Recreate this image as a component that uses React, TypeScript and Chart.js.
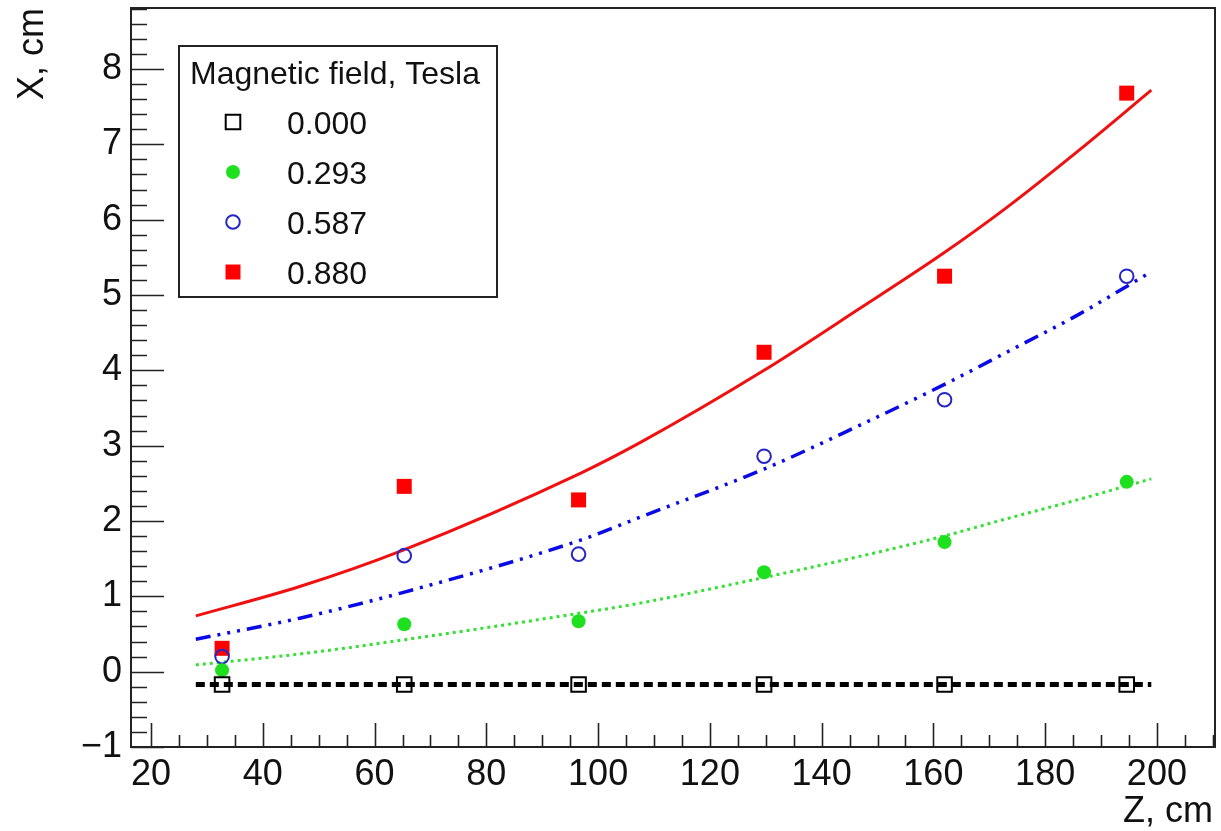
import React, { useEffect, useRef } from 'react';
import { Chart, registerables } from 'chart.js';

Chart.register(...registerables);

// ---- data ----
const zPoints = [32.7, 65.3, 96.5, 129.7, 162.0, 194.6];
const x000 = [-0.17, -0.17, -0.17, -0.17, -0.17, -0.17];
const x293 = [0.02, 0.63, 0.67, 1.32, 1.72, 2.52];
const x587 = [0.2, 1.54, 1.56, 2.86, 3.61, 5.25];
const x880 = [0.31, 2.46, 2.28, 4.24, 5.25, 7.68];

const zFit = [28, 46.6, 65, 97, 107.5, 129.7, 146.8, 161.9, 173.1, 186.2, 199];
const fit000 = [-0.17, -0.17, -0.17, -0.17, -0.17, -0.17, -0.17, -0.17, -0.17, -0.17, -0.17];
const fit293 = [0.09, 0.235, 0.42, 0.78, 0.91, 1.25, 1.53, 1.8, 2.03, 2.29, 2.56];
const fit587 = [0.43, 0.71, 1.05, 1.75, 2.05, 2.69, 3.27, 3.81, 4.24, 4.75, 5.31];
const fit880 = [0.74, 1.13, 1.61, 2.64, 3.04, 4.0, 4.82, 5.56, 6.16, 6.93, 7.72];

const legendTitle = 'Magnetic field, Tesla';
const legendLabels = ['0.000', '0.293', '0.587', '0.880'];
const xTickValues = [20, 40, 60, 80, 100, 120, 140, 160, 180, 200];
const yTickValues = [-1, 0, 1, 2, 3, 4, 5, 6, 7, 8];
const xTitle = 'Z, cm';
const yTitle = 'X, cm';

const X_MIN = 16.4;
const X_MAX = 210.4;
const Y_MIN = -1;
const Y_MAX = 8.81;

const FONT = '"Liberation Sans", Arial, Helvetica, sans-serif';

const toXY = (xs: number[], ys: number[]) => xs.map((x, i) => ({ x, y: ys[i] }));

const markerStyles = [
  { style: 'rect', radius: 10.3, fill: 'rgba(0,0,0,0)', stroke: '#000000', bw: 2 },
  { style: 'circle', radius: 7, fill: '#1fe01f', stroke: '#1fe01f', bw: 0 },
  { style: 'circle', radius: 6.8, fill: 'rgba(0,0,0,0)', stroke: '#2626c4', bw: 2 },
  { style: 'rect', radius: 10.6, fill: '#ff0000', stroke: '#ff0000', bw: 0 },
];

function drawMarker(ctx: CanvasRenderingContext2D, m: any, x: number, y: number) {
  ctx.save();
  ctx.beginPath();
  if (m.style === 'rect') {
    const s = Math.SQRT1_2 * m.radius;
    ctx.rect(x - s, y - s, 2 * s, 2 * s);
  } else {
    ctx.arc(x, y, m.radius, 0, Math.PI * 2);
  }
  ctx.fillStyle = m.fill;
  ctx.fill();
  if (m.bw > 0) {
    ctx.lineWidth = m.bw;
    ctx.strokeStyle = m.stroke;
    ctx.stroke();
  }
  ctx.restore();
}

const zeroPad = (s: any) => {
  s.paddingTop = 0;
  s.paddingBottom = 0;
  s.paddingLeft = 0;
  s.paddingRight = 0;
};

const rootFramePlugin = {
  id: 'rootFrame',
  beforeDatasetsDraw(chart: any) {
    const { ctx, chartArea } = chart;
    const xs = chart.scales.x;
    const ys = chart.scales.y;
    ctx.save();
    ctx.strokeStyle = '#222';
    ctx.lineWidth = 2;
    ctx.strokeRect(chartArea.left, chartArea.top, chartArea.right - chartArea.left, chartArea.bottom - chartArea.top);
    ctx.lineWidth = 1.6;
    ctx.beginPath();
    for (let i = 0; i * 0.2 + Y_MIN <= Y_MAX + 1e-9; i++) {
      const v = Y_MIN + i * 0.2;
      const py = Math.round(ys.getPixelForValue(v)) + 0.5;
      const len = i % 5 === 0 ? 33 : 16;
      ctx.moveTo(chartArea.left, py);
      ctx.lineTo(chartArea.left + len, py);
    }
    for (let i = 0; 20 + i * 5 <= X_MAX + 1e-9; i++) {
      const v = 20 + i * 5;
      const px = Math.round(xs.getPixelForValue(v)) + 0.5;
      const len = i % 4 === 0 ? 24 : 12;
      ctx.moveTo(px, chartArea.bottom);
      ctx.lineTo(px, chartArea.bottom - len);
    }
    ctx.stroke();
    ctx.restore();
  },
  afterDraw(chart: any) {
    const { ctx } = chart;
    ctx.save();
    ctx.fillStyle = '#111';
    ctx.font = `36px ${FONT}`;
    ctx.textAlign = 'right';
    ctx.textBaseline = 'alphabetic';
    ctx.fillText(xTitle, 1213, 822);
    ctx.save();
    ctx.translate(43, 8);
    ctx.rotate(-Math.PI / 2);
    ctx.textAlign = 'right';
    ctx.fillText(yTitle, 0, 0);
    ctx.restore();

    const L = 179, T = 46, R = 497, B = 297;
    ctx.fillStyle = '#ffffff';
    ctx.fillRect(L, T, R - L, B - T);
    ctx.strokeStyle = '#222';
    ctx.lineWidth = 2;
    ctx.strokeRect(L, T, R - L, B - T);
    ctx.fillStyle = '#111';
    ctx.font = `32px ${FONT}`;
    ctx.textAlign = 'left';
    ctx.textBaseline = 'alphabetic';
    ctx.fillText(legendTitle, 190, 84);
    legendLabels.forEach((lab, i) => {
      const cy = 122 + i * 50;
      drawMarker(ctx, markerStyles[i], 233, cy);
      ctx.fillStyle = '#111';
      ctx.fillText(lab, 287, cy + 11.5);
    });
    ctx.restore();
  },
};

export default function App() {
  const ref = useRef<HTMLCanvasElement | null>(null);

  useEffect(() => {
    if (!ref.current) return;
    const pointSets = [x000, x293, x587, x880];
    const fitSets = [fit000, fit293, fit587, fit880];
    const lineStyles = [
      { color: '#000000', width: 5, dash: [9, 5] },
      { color: '#33e033', width: 3, dash: [3, 4] },
      { color: '#0a0ae6', width: 3.5, dash: [15, 7, 3, 7, 3, 7, 3, 7] },
      { color: '#f01010', width: 3, dash: [] as number[] },
    ];
    const datasets: any[] = [];
    fitSets.forEach((ys, i) => {
      datasets.push({
        label: 'fit ' + legendLabels[i],
        data: toXY(zFit, ys),
        showLine: true,
        borderColor: lineStyles[i].color,
        borderWidth: lineStyles[i].width,
        borderDash: lineStyles[i].dash,
        pointRadius: 0,
        cubicInterpolationMode: 'monotone',
        fill: false,
        order: 2,
      });
    });
    pointSets.forEach((ys, i) => {
      const m = markerStyles[i];
      datasets.push({
        label: legendLabels[i],
        data: toXY(zPoints, ys),
        showLine: false,
        pointStyle: m.style,
        pointRadius: m.radius,
        pointBackgroundColor: m.fill,
        pointBorderColor: m.stroke,
        pointBorderWidth: m.bw,
        order: 1,
      });
    });

    const chart = new Chart(ref.current, {
      type: 'scatter',
      data: { datasets },
      options: {
        animation: false,
        responsive: false,
        events: [],
        layout: { autoPadding: false, padding: { top: 8, right: 6, left: 0, bottom: 0 } },
        plugins: {
          legend: { display: false },
          tooltip: { enabled: false },
          title: { display: false },
        },
        scales: {
          x: {
            type: 'linear',
            min: X_MIN,
            max: X_MAX,
            grid: { display: false, drawTicks: false },
            border: { display: false },
            afterBuildTicks: (s: any) => {
              s.ticks = xTickValues.map((v) => ({ value: v }));
            },
            afterFit: (s: any) => {
              s.height = 84;
              zeroPad(s);
            },
            ticks: {
              color: '#111',
              padding: 6,
              maxRotation: 0,
              autoSkip: false,
              font: { size: 36, family: FONT },
              callback: (v: any) => String(v),
            },
          },
          y: {
            type: 'linear',
            min: Y_MIN,
            max: Y_MAX,
            grid: { display: false, drawTicks: false },
            border: { display: false },
            afterBuildTicks: (s: any) => {
              s.ticks = yTickValues.map((v) => ({ value: v }));
            },
            afterFit: (s: any) => {
              s.width = 131;
              zeroPad(s);
            },
            ticks: {
              color: '#111',
              padding: 9,
              autoSkip: false,
              font: { size: 36, family: FONT },
              callback: (v: any) => (v < 0 ? '\u2212' + Math.abs(v) : String(v)),
            },
          },
        },
      },
      plugins: [rootFramePlugin],
    });
    return () => chart.destroy();
  }, []);

  return (
    <div style={{ position: 'absolute', left: 0, top: 0, width: 1221, height: 831, background: '#fff' }}>
      <canvas ref={ref} width={1221} height={831} style={{ display: 'block' }} />
    </div>
  );
}
